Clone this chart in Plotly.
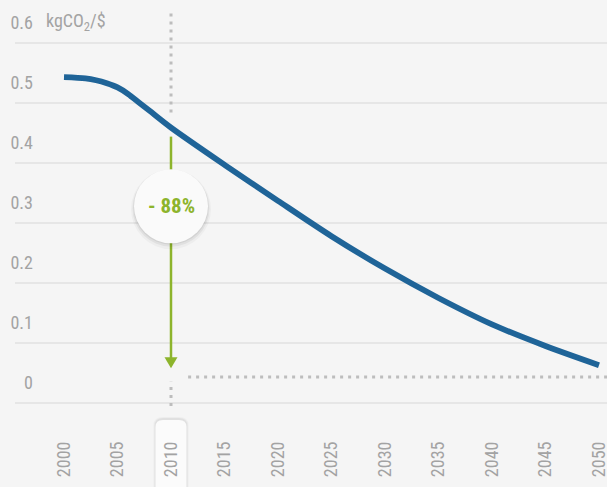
import plotly.graph_objects as go

# carbon intensity, kgCO2 per $
years = [2000, 2002, 2003, 2004, 2005, 2006, 2007, 2008, 2010, 2015, 2020, 2025, 2030, 2035, 2040, 2045, 2050]
intensity = [0.543, 0.541, 0.538, 0.533, 0.526, 0.515, 0.501, 0.487, 0.459, 0.397, 0.337, 0.278,
             0.224, 0.175, 0.131, 0.095, 0.063]

x_ticks = list(range(2000, 2051, 5))
y_ticks = [0, 0.1, 0.2, 0.3, 0.4, 0.5, 0.6]
y_labels = ['0', '0.1', '0.2', '0.3', '0.4', '0.5', '0.6']
unit = 'kgCO<sub>2</sub>/$'

ref_year = 2010
drop_label = '- 88%'
target_level = 0.0433

font_family = 'Liberation Sans Narrow, Roboto Condensed, DejaVu Sans Condensed, Roboto, sans-serif'
grey = '#a3a3a3'
blue = '#1f6498'
green = '#8db42c'
bg = '#f5f5f5'

x_range = [1995.42, 2050.75]
y_range = [-0.0067, 0.6717]

fig = go.Figure()
fig.add_trace(go.Scatter(x=years, y=intensity, mode='lines',
                         line=dict(color=blue, width=5.8, shape='spline', smoothing=0.8),
                         hoverinfo='skip'))

ref_val = intensity[years.index(ref_year)]
dot = dict(color='#bdbdbd', width=3, dash='3px,5px')

# dotted guides
fig.add_shape(type='line', x0=ref_year, x1=ref_year, y0=ref_val + 0.025, y1=0.652, line=dot)
fig.add_shape(type='line', x0=ref_year, x1=ref_year, y0=-0.005, y1=target_level - 0.008, line=dot)
fig.add_shape(type='line', x0=ref_year + 1.6, x1=x_range[1], y0=target_level, y1=target_level, line=dot)

# green arrow
fig.add_shape(type='line', x0=ref_year, x1=ref_year, y0=ref_val - 0.015, y1=0.075,
              line=dict(color=green, width=2.5))
fig.add_shape(type='path', xref='x', yref='y', xsizemode='pixel', ysizemode='pixel',
              xanchor=ref_year, yanchor=0.058, path='M -6.5,11 L 6.5,11 L 0,0 Z',
              fillcolor=green, line=dict(width=0))

# badge
badge_y = 0.328
for r, dy, col in [(40, -3, 'rgba(0,0,0,0.03)'), (38.5, -2, 'rgba(0,0,0,0.05)'), (37.5, -1, 'rgba(0,0,0,0.06)')]:
    fig.add_shape(type='circle', xsizemode='pixel', ysizemode='pixel', xanchor=ref_year, yanchor=badge_y,
                  x0=-r, x1=r, y0=-r + dy, y1=r + dy, fillcolor=col, line=dict(width=0))
fig.add_shape(type='circle', xsizemode='pixel', ysizemode='pixel', xanchor=ref_year, yanchor=badge_y,
              x0=-37, x1=37, y0=-37, y1=37, fillcolor='#fafafa', line=dict(width=0))
fig.add_annotation(x=ref_year, y=badge_y, text='<b>' + drop_label + '</b>', showarrow=False,
                   font=dict(size=21, color=green, family=font_family))

# highlight behind the 2010 tick label
px_pos = (ref_year - x_range[0]) / (x_range[1] - x_range[0])
for dx, col in [(2, 'rgba(0,0,0,0.03)'), (1, 'rgba(0,0,0,0.05)')]:
    fig.add_shape(type='path', xref='paper', yref='paper', xsizemode='pixel', ysizemode='pixel',
                  xanchor=px_pos, yanchor=0, layer='below',
                  path=f'M {-15.5 - dx},-90 L {-15.5 - dx},{-20 + dx} Q {-15.5 - dx},{-12 + dx} -8,{-12 + dx} '
                       f'L 8,{-12 + dx} Q {15.5 + dx},{-12 + dx} {15.5 + dx},{-20 + dx} L {15.5 + dx},-90 Z',
                  fillcolor=col, line=dict(width=0))
fig.add_shape(type='path', xref='paper', yref='paper', xsizemode='pixel', ysizemode='pixel',
              xanchor=px_pos, yanchor=0, layer='below',
              path='M -15.5,-90 L -15.5,-20 Q -15.5,-13 -8,-13 L 8,-13 Q 15.5,-13 15.5,-20 L 15.5,-90 Z',
              fillcolor='#fbfbfb', line=dict(width=0))

# unit label
fig.add_annotation(x=(44 - 15) / 592, xref='paper', xanchor='left', y=0.6, yref='y', yshift=21,
                   text=unit, showarrow=False, font=dict(size=18, color=grey, family=font_family))

fig.update_layout(
    width=607, height=487,
    margin=dict(l=15, r=0, t=0, b=80),
    paper_bgcolor=bg, plot_bgcolor=bg,
    showlegend=False,
    font=dict(family=font_family, color=grey, size=18),
    xaxis=dict(range=x_range, tickvals=x_ticks, tickangle=-90, showgrid=False, zeroline=False,
               showline=False, ticks='', ticklabelstandoff=30, ticklabeloverflow='allow', automargin=False,
               tickfont=dict(size=18, color=grey)),
    yaxis=dict(range=y_range, tickvals=y_ticks, ticktext=y_labels, anchor='free', position=(33 - 15) / 592,
               showgrid=True, gridcolor='#e6e6e6', gridwidth=1.5, zeroline=False, showline=False,
               ticks='', ticklabelshift=-20, automargin=False, tickfont=dict(size=18, color=grey)),
)

# page has a default 8px body margin, drop it so the figure fills the window
fig.write_html('out.html', config={'displayModeBar': False},
               post_script="document.body.style.margin='0';document.body.style.overflow='hidden';")
